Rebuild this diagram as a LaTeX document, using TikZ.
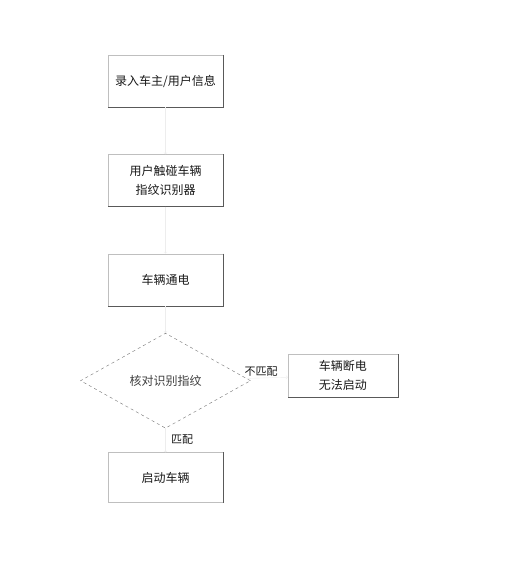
\documentclass[tikz,border=0pt]{standalone}
\usepackage{fontspec}
\newfontfamily\cjk{Noto Sans CJK SC}
\usetikzlibrary{positioning,shapes.geometric}

\tikzset{
	stepbox/.style={draw=black!25, minimum width=115pt, minimum height=52pt, align=center, font=\cjk\fontsize{12}{19}\selectfont, text=black!90},
	checkbox/.style={draw=black!55, dashed, diamond, aspect=1.8, minimum width=170pt, minimum height=95pt, inner sep=0pt, font=\cjk\fontsize{12}{17}\selectfont, text=black!75},
	flow/.style={->, draw=black!7},
	edge/.style={draw=black!65, line width=0.8pt}
}

\begin{document}
\begin{tikzpicture}[x=1pt, y=-1pt]
	\useasboundingbox (0,0) rectangle (520,588);
	\fill[white] (0,0) rectangle (520,588);
	% main chain
	\node[stepbox] (enter) at (165.5,81) {录入车主/用户信息};
	\node[stepbox, below=47pt of enter] (touch) {用户触碰车辆\\指纹识别器};
	\node[stepbox, below=47pt of touch] (power) {车辆通电};
	\node[checkbox, below=27pt of power] (check) {核对识别指纹};
	\node[stepbox, below=24pt of check, minimum height=50pt] (start) {启动车辆};
	\node[stepbox, minimum width=110pt, minimum height=43pt, right=37pt of check, yshift=5pt] (cut) {车辆断电\\无法启动};
	% darker right and bottom edges
	\foreach \b in {enter,touch,power,cut}
		\draw[edge] (\b.north east) -- (\b.south east) -- (\b.south west);
	\draw[edge] (start.north east) -- (start.south east);
	% connectors
	\draw[flow] (enter) -- (touch);
	\draw[flow] (touch) -- (power);
	\draw[flow] (power) -- (check);
	\draw[flow] (check) -- node[pos=0.45, right=2pt, font=\cjk\fontsize{11}{13}\selectfont, text=black!90] {匹配} (start);
	\draw[flow] (check) -- node[pos=0.35, above=-2pt, font=\cjk\fontsize{11}{13}\selectfont, text=black!90] {不匹配} (cut);
\end{tikzpicture}
\end{document}
